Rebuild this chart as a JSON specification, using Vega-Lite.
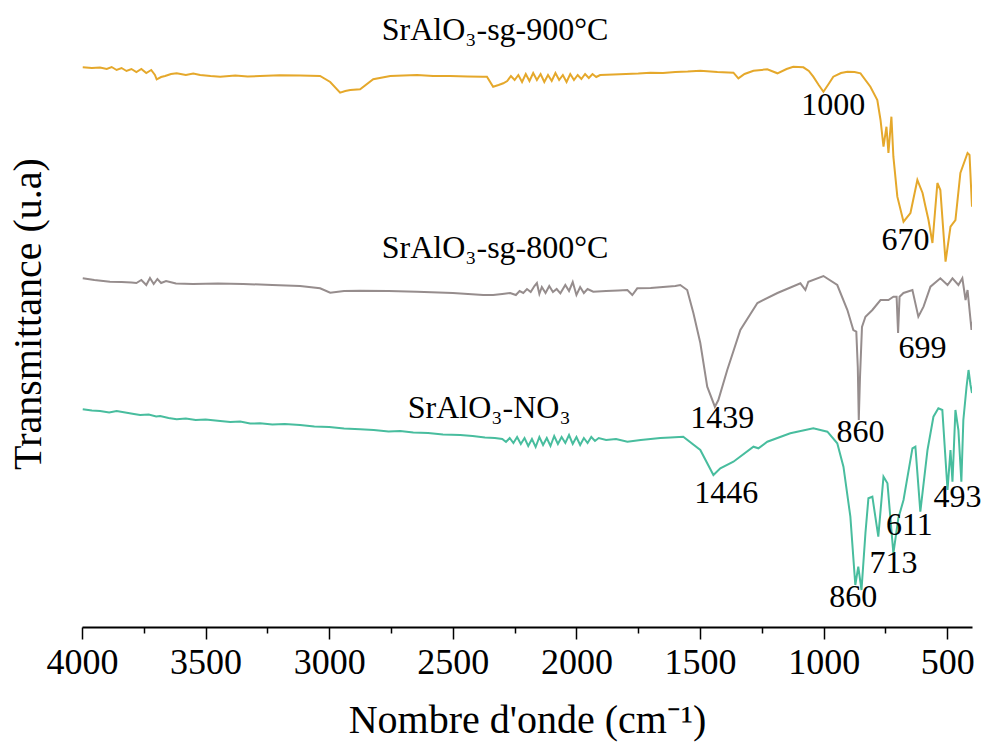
{
"$schema": "https://vega.github.io/schema/vega-lite/v6.json",
"width": 890, "height": 627,
"autosize": {"type": "none"},
"padding": {"left": 82, "top": 0, "right": 12, "bottom": 124},
"background": "white",
"config": {"view": {"stroke": null}, "font": "Liberation Serif",
  "axis": {"labelFont": "Liberation Serif", "titleFont": "Liberation Serif"},
  "text": {"font": "Liberation Serif"}},
"datasets": {
"spectra": [
{"s":"900","w":3997,"t":559.7},{"s":"900","w":3960,"t":559},{"s":"900","w":3927,"t":559.5},{"s":"900","w":3900,"t":558},{"s":"900","w":3880,"t":560},{"s":"900","w":3860,"t":557},{"s":"900","w":3840,"t":559},{"s":"900","w":3820,"t":556},{"s":"900","w":3800,"t":558},{"s":"900","w":3780,"t":555},{"s":"900","w":3760,"t":558},{"s":"900","w":3740,"t":554},{"s":"900","w":3720,"t":557},{"s":"900","w":3705,"t":552},{"s":"900","w":3698,"t":547.7},{"s":"900","w":3680,"t":550},{"s":"900","w":3664,"t":551},{"s":"900","w":3640,"t":553},{"s":"900","w":3617,"t":553.7},{"s":"900","w":3580,"t":552},{"s":"900","w":3550,"t":553.5},{"s":"900","w":3522,"t":552},{"s":"900","w":3480,"t":551},{"s":"900","w":3441,"t":550.3},{"s":"900","w":3380,"t":551.5},{"s":"900","w":3330,"t":550.5},{"s":"900","w":3280,"t":551},{"s":"900","w":3200,"t":551.8},{"s":"900","w":3118,"t":551.5},{"s":"900","w":3037,"t":551},{"s":"900","w":2996,"t":545},{"s":"900","w":2956,"t":534.3},{"s":"900","w":2935,"t":536},{"s":"900","w":2915,"t":537},{"s":"900","w":2875,"t":537.7},{"s":"900","w":2822,"t":547.7},{"s":"900","w":2753,"t":551},{"s":"900","w":2700,"t":551.5},{"s":"900","w":2645,"t":552},{"s":"900","w":2580,"t":551},{"s":"900","w":2511,"t":551},{"s":"900","w":2440,"t":550.5},{"s":"900","w":2380,"t":550.3},{"s":"900","w":2362,"t":550.3},{"s":"900","w":2337,"t":540.3},{"s":"900","w":2315,"t":542},{"s":"900","w":2296,"t":543.7},{"s":"900","w":2280,"t":546},{"s":"900","w":2265,"t":551},{"s":"900","w":2250,"t":547},{"s":"900","w":2235,"t":552},{"s":"900","w":2220,"t":545},{"s":"900","w":2205,"t":553},{"s":"900","w":2190,"t":546},{"s":"900","w":2175,"t":554},{"s":"900","w":2160,"t":547},{"s":"900","w":2145,"t":553},{"s":"900","w":2130,"t":545},{"s":"900","w":2115,"t":552},{"s":"900","w":2100,"t":546},{"s":"900","w":2085,"t":554},{"s":"900","w":2070,"t":547},{"s":"900","w":2055,"t":552},{"s":"900","w":2040,"t":545},{"s":"900","w":2025,"t":553},{"s":"900","w":2010,"t":547},{"s":"900","w":1995,"t":552},{"s":"900","w":1980,"t":548},{"s":"900","w":1965,"t":553},{"s":"900","w":1950,"t":549},{"s":"900","w":1935,"t":553},{"s":"900","w":1920,"t":550},{"s":"900","w":1904,"t":552},{"s":"900","w":1850,"t":552.5},{"s":"900","w":1800,"t":553},{"s":"900","w":1750,"t":553.5},{"s":"900","w":1701,"t":554.3},{"s":"900","w":1650,"t":554},{"s":"900","w":1600,"t":555},{"s":"900","w":1550,"t":555.5},{"s":"900","w":1499,"t":556.3},{"s":"900","w":1430,"t":555},{"s":"900","w":1365,"t":554.3},{"s":"900","w":1345,"t":548.7},{"s":"900","w":1320,"t":553},{"s":"900","w":1284,"t":556.3},{"s":"900","w":1228,"t":557.7},{"s":"900","w":1187,"t":553.7},{"s":"900","w":1150,"t":558},{"s":"900","w":1123,"t":560.3},{"s":"900","w":1082,"t":559.7},{"s":"900","w":1060,"t":556},{"s":"900","w":1042,"t":550.3},{"s":"900","w":1020,"t":542},{"s":"900","w":1001,"t":535.3},{"s":"900","w":980,"t":543},{"s":"900","w":961,"t":550.3},{"s":"900","w":930,"t":554},{"s":"900","w":904,"t":555.3},{"s":"900","w":875,"t":555},{"s":"900","w":851,"t":553.7},{"s":"900","w":811,"t":540.3},{"s":"900","w":783,"t":527},{"s":"900","w":770,"t":507},{"s":"900","w":758,"t":480.3},{"s":"900","w":746,"t":500.3},{"s":"900","w":738,"t":474},{"s":"900","w":726,"t":510.3},{"s":"900","w":718,"t":470.3},{"s":"900","w":702,"t":430.3},{"s":"900","w":677,"t":405.3},{"s":"900","w":649,"t":414},{"s":"900","w":621,"t":447},{"s":"900","w":600,"t":434},{"s":"900","w":588,"t":420.3},{"s":"900","w":576,"t":407},{"s":"900","w":560,"t":384},{"s":"900","w":540,"t":444},{"s":"900","w":528,"t":437},{"s":"900","w":507,"t":365.3},{"s":"900","w":487,"t":400.3},{"s":"900","w":467,"t":407},{"s":"900","w":447,"t":454},{"s":"900","w":418,"t":474},{"s":"900","w":410,"t":472},{"s":"900","w":400,"t":420.3},
{"s":"800","w":3997,"t":348.7},{"s":"800","w":3950,"t":347},{"s":"800","w":3887,"t":345.3},{"s":"800","w":3840,"t":345},{"s":"800","w":3800,"t":344.5},{"s":"800","w":3780,"t":344},{"s":"800","w":3760,"t":347},{"s":"800","w":3740,"t":342},{"s":"800","w":3725,"t":349},{"s":"800","w":3710,"t":343},{"s":"800","w":3695,"t":348},{"s":"800","w":3680,"t":344},{"s":"800","w":3660,"t":346},{"s":"800","w":3620,"t":343.5},{"s":"800","w":3551,"t":343},{"s":"800","w":3450,"t":343.5},{"s":"800","w":3348,"t":343},{"s":"800","w":3230,"t":342},{"s":"800","w":3118,"t":341},{"s":"800","w":3037,"t":338.7},{"s":"800","w":2996,"t":334.3},{"s":"800","w":2940,"t":336},{"s":"800","w":2875,"t":336.3},{"s":"800","w":2760,"t":336},{"s":"800","w":2645,"t":335.3},{"s":"800","w":2500,"t":334},{"s":"800","w":2377,"t":332},{"s":"800","w":2337,"t":332},{"s":"800","w":2300,"t":333},{"s":"800","w":2268,"t":334},{"s":"800","w":2245,"t":332},{"s":"800","w":2230,"t":336},{"s":"800","w":2215,"t":334},{"s":"800","w":2200,"t":338},{"s":"800","w":2185,"t":335},{"s":"800","w":2170,"t":341},{"s":"800","w":2160,"t":344},{"s":"800","w":2150,"t":333},{"s":"800","w":2140,"t":340},{"s":"800","w":2125,"t":334},{"s":"800","w":2110,"t":341},{"s":"800","w":2095,"t":335},{"s":"800","w":2080,"t":338},{"s":"800","w":2065,"t":333.7},{"s":"800","w":2045,"t":342},{"s":"800","w":2030,"t":336},{"s":"800","w":2015,"t":345},{"s":"800","w":2000,"t":332},{"s":"800","w":1985,"t":340},{"s":"800","w":1970,"t":334},{"s":"800","w":1955,"t":338},{"s":"800","w":1932,"t":335.3},{"s":"800","w":1880,"t":336},{"s":"800","w":1830,"t":336.5},{"s":"800","w":1794,"t":337},{"s":"800","w":1774,"t":332},{"s":"800","w":1754,"t":338.7},{"s":"800","w":1700,"t":339},{"s":"800","w":1650,"t":340},{"s":"800","w":1600,"t":341},{"s":"800","w":1580,"t":342},{"s":"800","w":1552,"t":337},{"s":"800","w":1527,"t":314},{"s":"800","w":1499,"t":284},{"s":"800","w":1471,"t":240.3},{"s":"800","w":1440,"t":220.3},{"s":"800","w":1426,"t":227},{"s":"800","w":1390,"t":257},{"s":"800","w":1337,"t":297},{"s":"800","w":1268,"t":324},{"s":"800","w":1187,"t":334},{"s":"800","w":1094,"t":343.7},{"s":"800","w":1074,"t":337},{"s":"800","w":1062,"t":345.3},{"s":"800","w":1001,"t":351},{"s":"800","w":945,"t":342},{"s":"800","w":904,"t":317},{"s":"800","w":880,"t":297},{"s":"800","w":868,"t":295.3},{"s":"800","w":862,"t":260},{"s":"800","w":858,"t":207},{"s":"800","w":853,"t":250},{"s":"800","w":845,"t":300},{"s":"800","w":831,"t":310.3},{"s":"800","w":803,"t":317},{"s":"800","w":770,"t":327},{"s":"800","w":738,"t":327},{"s":"800","w":718,"t":330.3},{"s":"800","w":705,"t":330.3},{"s":"800","w":699,"t":294},{"s":"800","w":693,"t":330.3},{"s":"800","w":677,"t":334},{"s":"800","w":641,"t":337},{"s":"800","w":617,"t":310.3},{"s":"800","w":596,"t":320.3},{"s":"800","w":568,"t":340.3},{"s":"800","w":528,"t":348.7},{"s":"800","w":499,"t":342},{"s":"800","w":479,"t":348.7},{"s":"800","w":455,"t":342},{"s":"800","w":439,"t":348.7},{"s":"800","w":426,"t":327},{"s":"800","w":418,"t":337},{"s":"800","w":402,"t":297},{"s":"800","w":400,"t":305.3},
{"s":"NO3","w":3997,"t":217.7},{"s":"NO3","w":3960,"t":216.5},{"s":"NO3","w":3927,"t":216},{"s":"NO3","w":3890,"t":214.5},{"s":"NO3","w":3860,"t":216},{"s":"NO3","w":3819,"t":214.3},{"s":"NO3","w":3790,"t":213},{"s":"NO3","w":3765,"t":212},{"s":"NO3","w":3730,"t":212.5},{"s":"NO3","w":3700,"t":210.5},{"s":"NO3","w":3684,"t":211},{"s":"NO3","w":3650,"t":209},{"s":"NO3","w":3617,"t":207.7},{"s":"NO3","w":3580,"t":208.5},{"s":"NO3","w":3540,"t":207},{"s":"NO3","w":3500,"t":207.5},{"s":"NO3","w":3441,"t":206},{"s":"NO3","w":3400,"t":205},{"s":"NO3","w":3360,"t":205.5},{"s":"NO3","w":3320,"t":203.5},{"s":"NO3","w":3280,"t":203.7},{"s":"NO3","w":3230,"t":202.5},{"s":"NO3","w":3180,"t":203},{"s":"NO3","w":3118,"t":202},{"s":"NO3","w":3060,"t":200.5},{"s":"NO3","w":3000,"t":200},{"s":"NO3","w":2940,"t":198.5},{"s":"NO3","w":2875,"t":197.7},{"s":"NO3","w":2820,"t":197},{"s":"NO3","w":2760,"t":195.5},{"s":"NO3","w":2713,"t":196},{"s":"NO3","w":2660,"t":194.5},{"s":"NO3","w":2600,"t":194},{"s":"NO3","w":2540,"t":192.5},{"s":"NO3","w":2470,"t":192},{"s":"NO3","w":2420,"t":191},{"s":"NO3","w":2370,"t":189.5},{"s":"NO3","w":2330,"t":189},{"s":"NO3","w":2300,"t":188},{"s":"NO3","w":2285,"t":185},{"s":"NO3","w":2270,"t":189},{"s":"NO3","w":2255,"t":184},{"s":"NO3","w":2240,"t":190},{"s":"NO3","w":2225,"t":183},{"s":"NO3","w":2210,"t":189},{"s":"NO3","w":2195,"t":181},{"s":"NO3","w":2180,"t":188},{"s":"NO3","w":2165,"t":180},{"s":"NO3","w":2150,"t":190},{"s":"NO3","w":2135,"t":182},{"s":"NO3","w":2120,"t":189},{"s":"NO3","w":2105,"t":181},{"s":"NO3","w":2090,"t":191},{"s":"NO3","w":2075,"t":183},{"s":"NO3","w":2060,"t":190},{"s":"NO3","w":2045,"t":184},{"s":"NO3","w":2030,"t":192},{"s":"NO3","w":2015,"t":183},{"s":"NO3","w":2000,"t":190},{"s":"NO3","w":1985,"t":182},{"s":"NO3","w":1970,"t":189},{"s":"NO3","w":1955,"t":184},{"s":"NO3","w":1940,"t":190},{"s":"NO3","w":1925,"t":186},{"s":"NO3","w":1910,"t":189},{"s":"NO3","w":1880,"t":187},{"s":"NO3","w":1840,"t":188},{"s":"NO3","w":1794,"t":185.3},{"s":"NO3","w":1740,"t":187},{"s":"NO3","w":1700,"t":188},{"s":"NO3","w":1661,"t":189},{"s":"NO3","w":1620,"t":189.5},{"s":"NO3","w":1568,"t":190.3},{"s":"NO3","w":1499,"t":177},{"s":"NO3","w":1446,"t":152},{"s":"NO3","w":1418,"t":158.7},{"s":"NO3","w":1365,"t":165.3},{"s":"NO3","w":1284,"t":180.3},{"s":"NO3","w":1264,"t":178.7},{"s":"NO3","w":1228,"t":185.3},{"s":"NO3","w":1135,"t":193.7},{"s":"NO3","w":1042,"t":198.7},{"s":"NO3","w":985,"t":195.3},{"s":"NO3","w":945,"t":183.7},{"s":"NO3","w":920,"t":160.3},{"s":"NO3","w":892,"t":110.3},{"s":"NO3","w":872,"t":42},{"s":"NO3","w":860,"t":60.3},{"s":"NO3","w":847,"t":37},{"s":"NO3","w":831,"t":94},{"s":"NO3","w":819,"t":128.7},{"s":"NO3","w":803,"t":130.3},{"s":"NO3","w":779,"t":90.3},{"s":"NO3","w":758,"t":150.3},{"s":"NO3","w":742,"t":143.7},{"s":"NO3","w":718,"t":73.7},{"s":"NO3","w":698,"t":108.7},{"s":"NO3","w":677,"t":127},{"s":"NO3","w":641,"t":178.7},{"s":"NO3","w":629,"t":180.3},{"s":"NO3","w":609,"t":115.3},{"s":"NO3","w":580,"t":177},{"s":"NO3","w":556,"t":210.3},{"s":"NO3","w":536,"t":218.7},{"s":"NO3","w":520,"t":217},{"s":"NO3","w":499,"t":137},{"s":"NO3","w":487,"t":177},{"s":"NO3","w":479,"t":145.3},{"s":"NO3","w":467,"t":217},{"s":"NO3","w":455,"t":197},{"s":"NO3","w":443,"t":145.3},{"s":"NO3","w":435,"t":207},{"s":"NO3","w":422,"t":240.3},{"s":"NO3","w":414,"t":257},{"s":"NO3","w":406,"t":242},{"s":"NO3","w":400,"t":234}
],
"labels": [
{"w":2329,"t":597,"label":"SrAlO₃-sg-900°C"},
{"w":2329,"t":379,"label":"SrAlO₃-sg-800°C"},
{"w":2353,"t":219,"label":"SrAlO₃-NO₃"},
{"w":961,"t":522,"label":"1000"},
{"w":669,"t":387,"label":"670"},
{"w":600,"t":279,"label":"699"},
{"w":1410,"t":209,"label":"1439"},
{"w":851,"t":195,"label":"860"},
{"w":1394,"t":134,"label":"1446"},
{"w":718,"t":64,"label":"713"},
{"w":653,"t":102,"label":"611"},
{"w":459,"t":130,"label":"493"},
{"w":880,"t":30,"label":"860"}
]
},
"layer": [
{"data": {"name": "spectra"},
 "mark": {"type": "line", "strokeWidth": 2, "clip": true},
 "encoding": {
  "x": {"field": "w", "type": "quantitative",
        "scale": {"domain": [400, 4000], "reverse": true, "nice": false, "zero": false},
        "axis": {"values": [4000,3750,3500,3250,3000,2750,2500,2250,2000,1750,1500,1250,1000,750,500],
                 "labelExpr": "datum.value % 500 === 0 ? datum.label : ''",
                 "format": "d", "title": "Nombre d'onde (cm⁻¹)",
                 "labelFontSize": 36, "labelFont": "Liberation Serif", "labelColor": "black",
                 "titleFontSize": 40, "titleFont": "Liberation Serif", "titleFontWeight": "normal", "titleColor": "black",
                 "domainColor": "black", "domainWidth": 2, "tickColor": "black", "tickWidth": 1.5,
                 "tickSize": {"condition": {"test": "datum.value % 500 !== 0", "value": 6}, "value": 12},
                 "grid": false, "labelPadding": 6, "titlePadding": 20, "labelFlush": false, "labelOverlap": false}},
  "y": {"field": "t", "type": "quantitative",
        "scale": {"domain": [0, 627], "nice": false, "zero": false},
        "axis": {"title": "Transmittance (u.a)", "labels": false, "ticks": false, "domain": false, "grid": false,
                 "titleFontSize": 40, "titleFont": "Liberation Serif", "titleFontWeight": "normal", "titleColor": "black", "titlePadding": 34}},
  "color": {"field": "s", "type": "nominal",
            "scale": {"domain": ["900", "800", "NO3"], "range": ["#E5A82B", "#968D8D", "#48BD9E"]},
            "legend": null}
 }},
{"data": {"name": "labels"},
 "mark": {"type": "text", "fontSize": 32, "font": "Liberation Serif", "color": "black"},
 "encoding": {
  "x": {"field": "w", "type": "quantitative"},
  "y": {"field": "t", "type": "quantitative"},
  "text": {"field": "label"}
 }}
]
}
